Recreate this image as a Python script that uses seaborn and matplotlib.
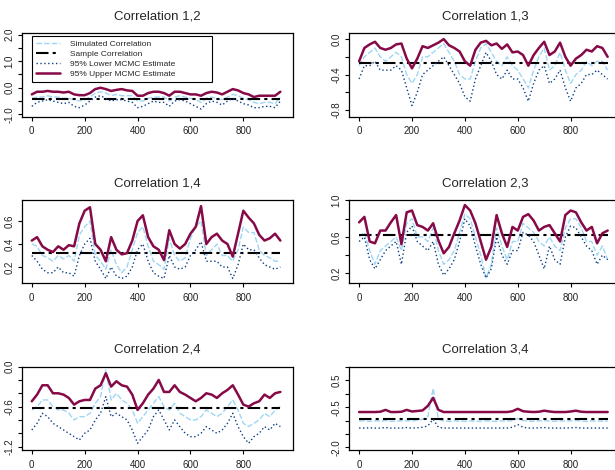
import numpy as np
import matplotlib
matplotlib.use('Agg')
import matplotlib.pyplot as plt
import seaborn as sns

# time index (every 20th draw)
t = np.arange(0, 951, 20)

# Correlation 1,2
upper_12 = [-0.25,-0.15,-0.15,-0.12,-0.15,-0.15,-0.18,-0.15,-0.25,-0.28,-0.28,-0.20,
            -0.05,0.00,-0.05,-0.12,-0.08,-0.05,-0.10,-0.12,-0.30,-0.30,-0.20,-0.15,
            -0.15,-0.20,-0.30,-0.15,-0.15,-0.20,-0.25,-0.25,-0.30,-0.20,-0.15,-0.18,
            -0.25,-0.15,-0.05,-0.10,-0.20,-0.25,-0.35,-0.30,-0.30,-0.30,-0.30,-0.15]
sim_12 = [-0.40,-0.35,-0.35,-0.30,-0.35,-0.35,-0.40,-0.40,-0.45,-0.50,-0.45,-0.35,
          -0.20,-0.15,-0.20,-0.30,-0.25,-0.30,-0.30,-0.30,-0.50,-0.50,-0.40,-0.35,
          -0.35,-0.35,-0.50,-0.35,-0.30,-0.35,-0.40,-0.45,-0.55,-0.40,-0.35,-0.40,
          -0.45,-0.35,-0.25,-0.30,-0.40,-0.45,-0.55,-0.60,-0.55,-0.55,-0.60,-0.35]
lower_12 = [-0.70,-0.55,-0.50,-0.45,-0.50,-0.55,-0.60,-0.55,-0.70,-0.75,-0.65,-0.50,
            -0.35,-0.30,-0.40,-0.50,-0.45,-0.45,-0.50,-0.55,-0.75,-0.70,-0.60,-0.50,
            -0.55,-0.55,-0.70,-0.50,-0.45,-0.50,-0.60,-0.70,-0.80,-0.60,-0.50,-0.55,
            -0.65,-0.50,-0.40,-0.50,-0.60,-0.65,-0.75,-0.75,-0.70,-0.70,-0.75,-0.50]
sample_12 = -0.42

# Correlation 1,3
upper_13 = [-0.25,-0.10,-0.06,-0.03,-0.10,-0.12,-0.10,-0.06,-0.05,-0.22,-0.33,-0.22,
            -0.08,-0.10,-0.07,-0.04,0.00,-0.07,-0.10,-0.14,-0.25,-0.30,-0.12,-0.04,
            -0.02,-0.07,-0.05,-0.11,-0.06,-0.15,-0.14,-0.18,-0.30,-0.18,-0.10,-0.03,
            -0.18,-0.14,-0.04,-0.20,-0.30,-0.22,-0.18,-0.12,-0.14,-0.08,-0.10,-0.20]
sim_13 = [-0.30,-0.20,-0.15,-0.10,-0.20,-0.25,-0.20,-0.15,-0.20,-0.40,-0.50,-0.40,
          -0.20,-0.20,-0.15,-0.10,-0.05,-0.15,-0.25,-0.40,-0.45,-0.45,-0.25,-0.10,
          -0.05,-0.15,-0.25,-0.30,-0.20,-0.30,-0.35,-0.45,-0.55,-0.35,-0.20,-0.10,
          -0.35,-0.30,-0.15,-0.35,-0.50,-0.40,-0.35,-0.25,-0.30,-0.25,-0.25,-0.35]
lower_13 = [-0.45,-0.30,-0.30,-0.25,-0.35,-0.35,-0.35,-0.30,-0.35,-0.55,-0.75,-0.60,
            -0.40,-0.35,-0.30,-0.25,-0.20,-0.30,-0.40,-0.50,-0.65,-0.70,-0.45,-0.30,
            -0.15,-0.25,-0.40,-0.45,-0.35,-0.45,-0.45,-0.55,-0.70,-0.50,-0.35,-0.30,
            -0.50,-0.45,-0.35,-0.55,-0.70,-0.55,-0.50,-0.40,-0.40,-0.35,-0.40,-0.45]
sample_13 = -0.27

# Correlation 1,4
upper_14 = [0.43,0.46,0.38,0.35,0.33,0.38,0.35,0.39,0.38,0.58,0.69,0.72,
            0.40,0.35,0.25,0.46,0.35,0.31,0.32,0.43,0.60,0.65,0.46,0.38,
            0.35,0.26,0.52,0.40,0.36,0.40,0.49,0.55,0.73,0.40,0.46,0.49,
            0.43,0.40,0.29,0.49,0.69,0.63,0.58,0.48,0.43,0.45,0.49,0.43]
sim_14 = [0.40,0.38,0.30,0.28,0.25,0.30,0.27,0.30,0.25,0.48,0.55,0.60,
          0.30,0.25,0.18,0.35,0.22,0.15,0.20,0.35,0.50,0.55,0.38,0.25,
          0.22,0.18,0.45,0.30,0.25,0.28,0.45,0.55,0.60,0.30,0.35,0.40,
          0.30,0.30,0.25,0.35,0.55,0.50,0.50,0.35,0.30,0.28,0.25,0.25]
lower_14 = [0.30,0.25,0.18,0.15,0.15,0.20,0.15,0.15,0.12,0.30,0.40,0.45,
            0.25,0.18,0.10,0.20,0.12,0.10,0.12,0.20,0.35,0.40,0.25,0.15,
            0.12,0.10,0.30,0.20,0.18,0.20,0.30,0.35,0.42,0.25,0.25,0.25,
            0.20,0.20,0.10,0.22,0.40,0.35,0.35,0.28,0.22,0.20,0.18,0.20]
sample_14 = 0.32

# Correlation 2,3
upper_23 = [0.76,0.82,0.55,0.53,0.67,0.67,0.76,0.84,0.52,0.87,0.89,0.73,
            0.71,0.67,0.75,0.56,0.42,0.49,0.64,0.78,0.95,0.89,0.75,0.55,
            0.35,0.49,0.84,0.64,0.49,0.71,0.67,0.82,0.85,0.78,0.67,0.71,
            0.73,0.64,0.55,0.84,0.89,0.87,0.76,0.67,0.71,0.53,0.64,0.67]
sim_23 = [0.60,0.65,0.45,0.30,0.45,0.50,0.55,0.60,0.45,0.75,0.80,0.60,
          0.60,0.55,0.70,0.45,0.30,0.35,0.45,0.65,0.85,0.80,0.60,0.40,
          0.15,0.30,0.70,0.50,0.35,0.55,0.55,0.75,0.70,0.65,0.55,0.50,
          0.60,0.50,0.45,0.70,0.80,0.80,0.70,0.55,0.55,0.40,0.50,0.35]
lower_23 = [0.55,0.60,0.35,0.25,0.35,0.45,0.50,0.55,0.30,0.65,0.72,0.55,
            0.50,0.45,0.55,0.30,0.18,0.25,0.35,0.55,0.80,0.72,0.50,0.30,
            0.15,0.25,0.60,0.40,0.30,0.45,0.45,0.65,0.62,0.55,0.40,0.25,
            0.50,0.35,0.30,0.60,0.72,0.70,0.60,0.50,0.45,0.30,0.40,0.35]
sample_23 = 0.62

# Correlation 2,4
upper_24 = [-0.52,-0.42,-0.28,-0.28,-0.40,-0.40,-0.42,-0.47,-0.57,-0.52,-0.50,-0.50,
            -0.33,-0.28,-0.10,-0.30,-0.22,-0.28,-0.30,-0.42,-0.65,-0.55,-0.42,-0.33,
            -0.20,-0.38,-0.38,-0.28,-0.38,-0.42,-0.47,-0.52,-0.47,-0.40,-0.42,-0.47,
            -0.40,-0.35,-0.28,-0.42,-0.57,-0.60,-0.55,-0.52,-0.42,-0.47,-0.40,-0.38]
sim_24 = [-0.65,-0.60,-0.50,-0.50,-0.60,-0.65,-0.65,-0.70,-0.80,-0.75,-0.75,-0.70,
          -0.55,-0.45,-0.05,-0.50,-0.40,-0.50,-0.55,-0.65,-0.85,-0.75,-0.65,-0.55,
          -0.45,-0.60,-0.65,-0.55,-0.70,-0.75,-0.80,-0.80,-0.75,-0.65,-0.70,-0.75,
          -0.70,-0.60,-0.50,-0.65,-0.85,-0.90,-0.85,-0.80,-0.70,-0.75,-0.65,-0.60]
lower_24 = [-0.95,-0.85,-0.70,-0.75,-0.85,-0.90,-0.95,-1.00,-1.05,-1.10,-1.00,-0.95,
            -0.80,-0.70,-0.45,-0.75,-0.70,-0.75,-0.80,-0.95,-1.15,-1.05,-0.95,-0.75,
            -0.65,-0.80,-0.95,-0.80,-0.90,-1.00,-1.05,-1.05,-1.00,-0.90,-0.95,-1.00,
            -0.95,-0.85,-0.70,-0.90,-1.05,-1.15,-1.05,-1.00,-0.90,-0.95,-0.85,-0.90]
sample_24 = -0.62

# Correlation 3,4
upper_34 = [-0.68,-0.68,-0.68,-0.68,-0.67,-0.60,-0.68,-0.68,-0.67,-0.60,-0.66,-0.64,
            -0.62,-0.45,-0.15,-0.60,-0.68,-0.68,-0.68,-0.68,-0.68,-0.68,-0.68,-0.68,
            -0.68,-0.68,-0.68,-0.68,-0.68,-0.65,-0.56,-0.65,-0.67,-0.68,-0.67,-0.63,
            -0.66,-0.68,-0.68,-0.68,-0.66,-0.63,-0.67,-0.68,-0.68,-0.68,-0.68,-0.68]
sim_34 = [-1.02,-1.00,-1.03,-1.01,-1.02,-1.00,-1.03,-1.02,-1.01,-1.00,-1.02,-0.98,
          -0.95,-0.85,0.20,-0.95,-1.02,-1.03,-1.01,-1.02,-1.03,-1.01,-1.02,-1.03,
          -1.01,-1.02,-1.03,-1.01,-1.02,-1.00,-0.92,-1.00,-1.02,-1.03,-1.01,-1.00,
          -1.02,-1.03,-1.01,-1.02,-1.01,-1.00,-1.02,-1.03,-1.01,-1.02,-1.02,-1.02]
lower_34 = [-1.28,-1.28,-1.27,-1.28,-1.28,-1.26,-1.28,-1.28,-1.28,-1.26,-1.28,-1.27,
            -1.25,-1.20,-0.95,-1.25,-1.28,-1.28,-1.28,-1.28,-1.28,-1.28,-1.28,-1.28,
            -1.28,-1.28,-1.28,-1.28,-1.28,-1.25,-1.15,-1.25,-1.28,-1.28,-1.27,-1.26,
            -1.28,-1.28,-1.28,-1.28,-1.27,-1.26,-1.28,-1.28,-1.28,-1.28,-1.28,-1.28]
sample_34 = -0.93

titles = ['Correlation 1,2', 'Correlation 1,3', 'Correlation 1,4',
          'Correlation 2,3', 'Correlation 2,4', 'Correlation 3,4']
series = [(upper_12, sim_12, lower_12, sample_12),
          (upper_13, sim_13, lower_13, sample_13),
          (upper_14, sim_14, lower_14, sample_14),
          (upper_23, sim_23, lower_23, sample_23),
          (upper_24, sim_24, lower_24, sample_24),
          (upper_34, sim_34, lower_34, sample_34)]
yticks = [[-1, -0.5, 0, 0.5, 1, 1.5, 2],
          [-0.8, -0.6, -0.4, -0.2, 0.0],
          [0.2, 0.4, 0.6],
          [0.2, 0.4, 0.6, 0.8, 1.0],
          [-1.2, -1.0, -0.8, -0.6, -0.4, -0.2, 0.0],
          [-2.0, -1.5, -1.0, -0.5, 0.0, 0.5, 1.0]]
ylabels = [['-1.0', '', '0.0', '', '1.0', '', '2.0'],
           ['-0.8', '', '-0.4', '', '0.0'],
           ['0.2', '0.4', '0.6'],
           ['0.2', '', '0.6', '', '1.0'],
           ['-1.2', '', '', '-0.6', '', '', '0.0'],
           ['-2.0', '', '', '-0.5', '', '0.5', '']]
ylims = [(-1.09, 2.05), (-0.875, 0.065), (0.057, 0.783),
         (0.09, 1.005), (-1.25, 0.0), (-2.1, 1.02)]

sim_col = '#9fd6f5'
low_col = '#0b3f86'
up_col = '#860a47'

sns.set_style('ticks')
plt.rcParams['font.family'] = ['Liberation Sans', 'DejaVu Sans']

fig = plt.figure(figsize=(6.15, 4.70), dpi=100)
col_x = [0.0358, 0.568]
row_y = [0.7517, 0.397, 0.0426]
w, h = 0.4407, 0.1774

for i in range(6):
    upper, sim, lower, sample = series[i]
    ax = fig.add_axes([col_x[i % 2], row_y[i // 2], w, h])
    sns.lineplot(x=t, y=sim, ax=ax, color=sim_col, linewidth=1.0,
                 linestyle=(0, (4, 1.5)), label='Simulated Correlation')
    sns.lineplot(x=t, y=[sample] * len(t), ax=ax, color='black', linewidth=1.5,
                 linestyle=(0, (6, 2, 1.5, 2)), label='Sample Correlation')
    sns.lineplot(x=t, y=lower, ax=ax, color=low_col, linewidth=1.0,
                 linestyle=(0, (1, 1.8)), label='95% Lower MCMC Estimate')
    sns.lineplot(x=t, y=upper, ax=ax, color=up_col, linewidth=1.8,
                 label='95% Upper MCMC Estimate')
    ax.set_xlim(-37, 988)
    ax.set_ylim(*ylims[i])
    ax.set_xticks([0, 200, 400, 600, 800])
    ax.set_yticks(yticks[i])
    ax.set_yticklabels(ylabels[i])
    for lab in ax.get_yticklabels():
        lab.set_rotation(90)
        lab.set_va('center')
    ax.tick_params(length=3, width=0.8, labelsize=7,
                   labelcolor='#222222', color='black')
    ax.tick_params(axis='x', pad=4)
    ax.tick_params(axis='y', pad=2.5)
    for s in ax.spines.values():
        s.set_linewidth(0.9)
        s.set_color('black')
    ax.set_xlabel('')
    ax.set_ylabel('')
    ax.set_title(titles[i], fontsize=9.5, pad=10)
    if i == 0:
        leg = ax.legend(loc='upper left', bbox_to_anchor=(0.037, 0.356, 0.663, 0.611),
                        mode='expand', fontsize=6, frameon=True, fancybox=False,
                        handlelength=2.85, handletextpad=1.2, labelspacing=0.25,
                        borderpad=0.5, borderaxespad=0)
        leg.get_frame().set_edgecolor('black')
        leg.get_frame().set_linewidth(0.8)
        leg.get_frame().set_alpha(1)
    else:
        ax.get_legend().remove()

fig.savefig('out.png', dpi=100)
